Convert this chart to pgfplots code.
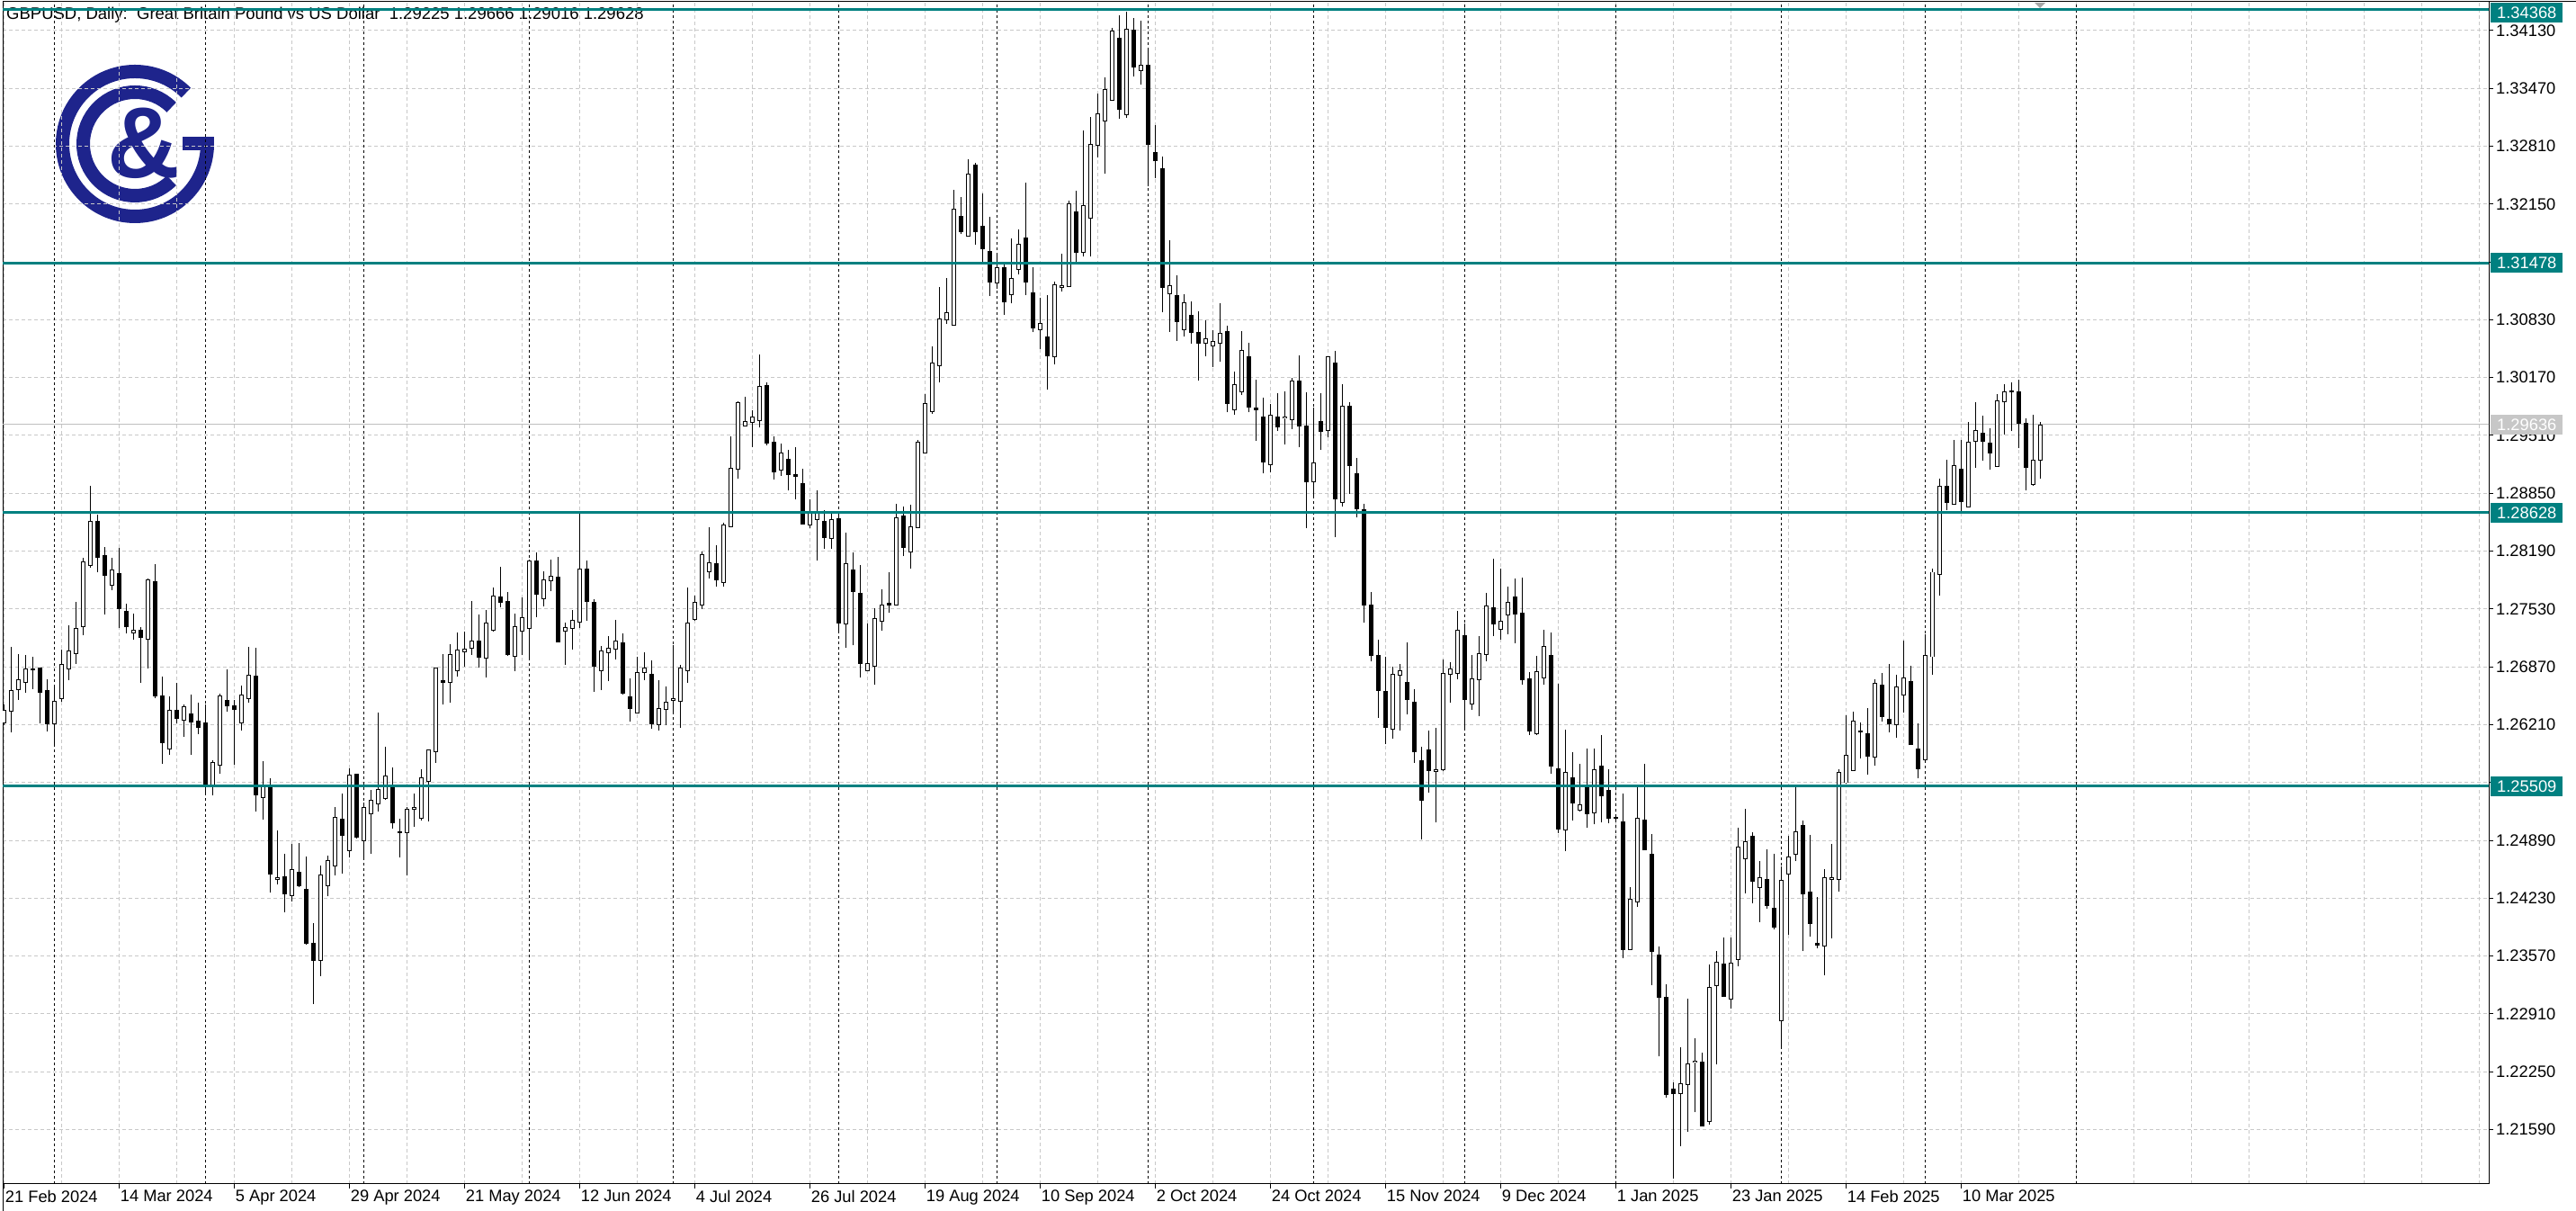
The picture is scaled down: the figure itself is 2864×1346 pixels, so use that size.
\documentclass[border=0pt]{standalone}
\usepackage{fontspec}
\setmainfont{Liberation Sans}
\usepackage{pgfplots}
\usepackage{pgfplotstable}
\pgfplotsset{compat=1.18}
\definecolor{lvl}{RGB}{0,128,128}
\definecolor{logo}{RGB}{30,36,140}
\definecolor{gridc}{RGB}{200,200,200}
\newcommand{\fs}{\fontsize{18.3}{20}\selectfont}

\pgfplotstableread{
i o h l c
0 1.26233 1.26438 1.26199 1.26377
1 1.26363 1.27098 1.26124 1.26602
2 1.26609 1.27016 1.26496 1.26719
3 1.26691 1.27003 1.26575 1.26849
7 1.26219 1.26643 1.25987 1.26472
8 1.26507 1.27067 1.26466 1.26893
9 1.26849 1.27345 1.26719 1.27047
10 1.27020 1.27611 1.26907 1.27303
11 1.27327 1.28114 1.27235 1.28070
12 1.28025 1.28935 1.28001 1.28531
15 1.27799 1.28114 1.27748 1.27970
18 1.27256 1.27475 1.27184 1.27290
20 1.27184 1.27875 1.26855 1.27858
23 1.25932 1.26534 1.25870 1.26370
25 1.26260 1.26438 1.26072 1.26411
29 1.25515 1.25806 1.25405 1.25782
30 1.25747 1.26568 1.25645 1.26534
33 1.26232 1.26660 1.26143 1.26550
34 1.26506 1.27097 1.26465 1.26776
36 1.25377 1.25798 1.25131 1.25521
38 1.24440 1.25001 1.24385 1.24467
40 1.24262 1.24844 1.24197 1.24553
44 1.23524 1.24601 1.23342 1.24498
45 1.24375 1.24714 1.24249 1.24656
46 1.24601 1.25271 1.24491 1.25148
48 1.24775 1.25712 1.24697 1.25637
50 1.24888 1.25326 1.24683 1.25268
51 1.25189 1.25463 1.24738 1.25350
52 1.25309 1.26348 1.25220 1.25473
53 1.25367 1.25959 1.25350 1.25627
56 1.24980 1.25275 1.24485 1.25247
57 1.25247 1.25425 1.25049 1.25261
58 1.25138 1.25702 1.25117 1.25599
59 1.25565 1.25924 1.25110 1.25918
60 1.25897 1.26865 1.25777 1.26858
62 1.26694 1.27128 1.26465 1.27012
63 1.26827 1.27265 1.26760 1.27063
64 1.27043 1.27276 1.26876 1.27074
65 1.27084 1.27625 1.27009 1.27166
67 1.26968 1.27515 1.26746 1.27372
68 1.27290 1.27775 1.27276 1.27679
71 1.26992 1.27474 1.26824 1.27324
72 1.27279 1.27659 1.27002 1.27426
73 1.27310 1.28097 1.26958 1.28073
75 1.27645 1.27960 1.27563 1.27864
76 1.27847 1.28097 1.27731 1.27898
78 1.27279 1.27372 1.26893 1.27314
79 1.27310 1.27522 1.27071 1.27402
80 1.27382 1.28617 1.27317 1.27980
83 1.26828 1.27105 1.26602 1.27054
84 1.27033 1.27225 1.26705 1.27084
85 1.27074 1.27406 1.26958 1.27166
88 1.26346 1.26985 1.26339 1.26801
89 1.26807 1.27040 1.26722 1.26852
91 1.26209 1.26718 1.26147 1.26397
92 1.26380 1.26650 1.26209 1.26465
93 1.26486 1.27115 1.26359 1.26510
94 1.26472 1.26889 1.26171 1.26855
95 1.26828 1.27772 1.26684 1.27372
96 1.27414 1.27681 1.27390 1.27602
97 1.27575 1.28180 1.27527 1.28146
98 1.27958 1.28464 1.27882 1.28060
100 1.27835 1.28512 1.27780 1.28484
101 1.28471 1.29497 1.28464 1.29138
102 1.29127 1.29897 1.29018 1.29880
103 1.29620 1.29948 1.29613 1.29664
104 1.29661 1.29798 1.29380 1.29722
105 1.29678 1.30437 1.29599 1.30071
108 1.29117 1.29418 1.29049 1.29312
112 1.28491 1.28782 1.28447 1.28642
113 1.28553 1.28888 1.28081 1.28635
115 1.28334 1.28642 1.28218 1.28553
117 1.27363 1.28402 1.27082 1.28050
120 1.26829 1.27363 1.26822 1.26911
121 1.26877 1.27534 1.26662 1.27424
122 1.27390 1.27749 1.27277 1.27578
124 1.27575 1.28731 1.27568 1.28566
126 1.28180 1.28717 1.27995 1.28471
127 1.28460 1.29462 1.28454 1.29435
128 1.29307 1.29977 1.29299 1.29871
129 1.29780 1.30522 1.29752 1.30332
130 1.30305 1.31200 1.30119 1.30837
131 1.30825 1.31303 1.30778 1.30908
132 1.30770 1.32313 1.30770 1.32092
134 1.31784 1.32664 1.31784 1.32494
138 1.31247 1.31567 1.31184 1.31425
140 1.31113 1.31756 1.31015 1.31299
141 1.31405 1.31855 1.31350 1.31689
144 1.30719 1.31082 1.30498 1.30786
146 1.30407 1.31263 1.30324 1.31228
147 1.31200 1.31579 1.31153 1.31216
148 1.31204 1.32190 1.31204 1.32151
150 1.31602 1.32987 1.31547 1.32131
151 1.31989 1.33145 1.31547 1.32833
152 1.32818 1.33409 1.32683 1.33181
153 1.33098 1.33599 1.32494 1.33461
154 1.33334 1.34159 1.33323 1.34123
156 1.33169 1.34340 1.33133 1.34143
158 1.33670 1.34242 1.33512 1.33737
162 1.31125 1.31741 1.30694 1.31221
164 1.30715 1.31125 1.30640 1.31026
167 1.30565 1.30824 1.30414 1.30616
168 1.30534 1.30708 1.30294 1.30578
169 1.30565 1.31019 1.30349 1.30677
171 1.29805 1.30233 1.29744 1.30086
172 1.30007 1.30701 1.29969 1.30476
176 1.29179 1.29870 1.29091 1.29744
178 1.29706 1.30014 1.29405 1.29720
179 1.29692 1.30168 1.29586 1.30134
182 1.28981 1.29826 1.28817 1.29200
184 1.29562 1.30414 1.29491 1.30404
186 1.28749 1.30093 1.28697 1.29846
193 1.26158 1.26876 1.26045 1.26787
194 1.26773 1.26907 1.26147 1.26828
199 1.25679 1.26175 1.25094 1.25699
200 1.25692 1.26951 1.25679 1.26797
201 1.26787 1.26924 1.26462 1.26848
202 1.26797 1.27505 1.26729 1.27283
204 1.26445 1.27002 1.26380 1.26735
205 1.26725 1.27225 1.26308 1.27023
206 1.27013 1.27714 1.26934 1.27560
208 1.27300 1.27994 1.27184 1.27385
209 1.27464 1.27789 1.27245 1.27601
213 1.26106 1.26995 1.26093 1.26811
214 1.26742 1.27296 1.26671 1.27098
217 1.25008 1.26157 1.24772 1.25662
219 1.25234 1.25764 1.25217 1.25299
221 1.25203 1.25935 1.25070 1.25692
226 1.23643 1.24358 1.23643 1.24221
227 1.24187 1.25514 1.24129 1.25144
233 1.22001 1.22531 1.21403 1.22118
234 1.22104 1.23085 1.21560 1.22343
235 1.22360 1.22631 1.21786 1.22374
237 1.21683 1.23472 1.21649 1.23215
238 1.23232 1.23626 1.22333 1.23503
240 1.23079 1.23780 1.22966 1.23486
241 1.23530 1.25035 1.23455 1.24816
242 1.24679 1.25250 1.24289 1.24878
244 1.24354 1.24659 1.23958 1.24464
247 1.22829 1.24590 1.22528 1.24433
248 1.24505 1.24946 1.23814 1.24700
249 1.24734 1.25514 1.24652 1.24990
253 1.23684 1.24566 1.23352 1.24467
254 1.24447 1.24847 1.23776 1.24460
255 1.24443 1.25700 1.24310 1.25667
256 1.25547 1.26317 1.25536 1.25863
257 1.25689 1.26353 1.25689 1.26246
260 1.25838 1.26725 1.25742 1.26679
263 1.26210 1.26778 1.26061 1.26640
264 1.26544 1.27168 1.26352 1.26743
267 1.25810 1.27239 1.25810 1.26995
268 1.26984 1.27992 1.26778 1.27949
269 1.27924 1.29013 1.27683 1.28932
271 1.28726 1.29457 1.28723 1.29170
273 1.28694 1.29659 1.28694 1.29432
274 1.29439 1.29893 1.29138 1.29570
277 1.29155 1.29982 1.29155 1.29900
278 1.29890 1.30096 1.29517 1.30007
282 1.28950 1.29741 1.28935 1.29223
283 1.29225 1.29666 1.29016 1.29628
}\bull

\pgfplotstableread{
i o h l c
4 1.26849 1.26979 1.26616 1.26835
5 1.26856 1.26866 1.26223 1.26582
6 1.26596 1.26729 1.26137 1.26219
13 1.28524 1.28610 1.27953 1.28121
14 1.28135 1.28234 1.27471 1.27916
16 1.27929 1.28223 1.27317 1.27536
17 1.27498 1.27587 1.27256 1.27327
19 1.27290 1.27327 1.26688 1.27204
21 1.27840 1.28039 1.26517 1.26541
22 1.26541 1.26756 1.25764 1.26004
24 1.26370 1.26684 1.26226 1.26281
26 1.26336 1.26551 1.25867 1.26243
27 1.26247 1.26462 1.26103 1.26178
28 1.26226 1.26438 1.25412 1.25532
31 1.26486 1.26842 1.26363 1.26421
32 1.26427 1.26489 1.25753 1.26383
35 1.26759 1.27087 1.25220 1.25411
37 1.25487 1.25600 1.24290 1.24505
39 1.24471 1.24738 1.24071 1.24283
41 1.24529 1.24861 1.24358 1.24368
42 1.24334 1.24707 1.23695 1.23712
43 1.23712 1.23948 1.23024 1.23520
47 1.25128 1.25425 1.24515 1.24946
49 1.25640 1.25647 1.24912 1.24926
54 1.25517 1.25723 1.25028 1.25090
55 1.24991 1.25138 1.24700 1.24977
61 1.26711 1.27019 1.26444 1.26690
66 1.27166 1.27467 1.26862 1.26982
69 1.27669 1.28011 1.27553 1.27608
70 1.27611 1.27720 1.26995 1.27006
74 1.28073 1.28175 1.27437 1.27700
77 1.27888 1.28124 1.27149 1.27156
81 1.27980 1.28086 1.27392 1.27618
82 1.27601 1.27642 1.26588 1.26879
86 1.27139 1.27249 1.26558 1.26565
87 1.26524 1.26739 1.26240 1.26394
90 1.26780 1.26944 1.26164 1.26219
99 1.28043 1.28259 1.27780 1.27862
106 1.30075 1.30116 1.29401 1.29418
107 1.29428 1.29497 1.29011 1.29093
109 1.29233 1.29346 1.28878 1.29066
110 1.29059 1.29377 1.28778 1.29045
111 1.28963 1.29127 1.28495 1.28502
114 1.28525 1.28662 1.28211 1.28344
116 1.28556 1.28635 1.27281 1.27369
118 1.27978 1.28173 1.27113 1.27732
119 1.27711 1.28036 1.26747 1.26908
123 1.27592 1.27944 1.27482 1.27578
125 1.28587 1.28696 1.28132 1.28231
133 1.32013 1.32226 1.31804 1.31831
135 1.32589 1.32620 1.31689 1.31839
136 1.31898 1.32269 1.31468 1.31638
137 1.31610 1.32001 1.31101 1.31263
139 1.31425 1.31468 1.30884 1.31034
142 1.31764 1.32391 1.31113 1.31263
143 1.31133 1.31433 1.30687 1.30739
145 1.30636 1.31113 1.30028 1.30419
149 1.32061 1.32297 1.31488 1.31602
155 1.34041 1.34301 1.33125 1.33232
157 1.34131 1.34277 1.33603 1.33717
159 1.33729 1.33914 1.32352 1.32829
160 1.32740 1.33050 1.32449 1.32640
161 1.32548 1.32692 1.30913 1.31201
163 1.31108 1.31341 1.30592 1.30811
165 1.30876 1.31040 1.30554 1.30688
166 1.30681 1.30927 1.30140 1.30561
170 1.30691 1.30766 1.29771 1.29877
173 1.30404 1.30571 1.29771 1.29833
174 1.29819 1.30147 1.29443 1.29798
175 1.29723 1.29942 1.29073 1.29210
177 1.29723 1.29987 1.29559 1.29610
180 1.30127 1.30424 1.29374 1.29614
181 1.29614 1.29997 1.28451 1.28981
183 1.29672 1.29990 1.29340 1.29559
185 1.30332 1.30476 1.28348 1.28790
187 1.29840 1.29884 1.28841 1.29169
188 1.29070 1.29255 1.28574 1.28673
189 1.28666 1.28728 1.27370 1.27570
190 1.27570 1.27720 1.26930 1.27000
191 1.27000 1.27180 1.26290 1.26600
192 1.26585 1.26985 1.25987 1.26175
195 1.26695 1.27149 1.26325 1.26496
196 1.26462 1.26619 1.25778 1.25901
197 1.25795 1.25959 1.24899 1.25350
198 1.25925 1.26147 1.25436 1.25686
203 1.27221 1.27361 1.26171 1.26496
207 1.27539 1.28107 1.27225 1.27358
210 1.27662 1.27881 1.27139 1.27471
211 1.27478 1.27892 1.26671 1.26722
212 1.26729 1.26807 1.26093 1.26141
215 1.26995 1.27266 1.25645 1.25737
216 1.25703 1.26677 1.24974 1.25019
218 1.25607 1.25901 1.25121 1.25316
220 1.25497 1.25935 1.25029 1.25197
222 1.25733 1.26086 1.25094 1.25402
223 1.25457 1.25703 1.25087 1.25145
224 1.25150 1.25172 1.25120 1.25146
225 1.25103 1.25421 1.23547 1.23643
228 1.25124 1.25760 1.24782 1.24782
229 1.24734 1.24960 1.23239 1.23626
230 1.23585 1.23680 1.22429 1.23103
231 1.23103 1.23246 1.21950 1.21991
232 1.22049 1.22128 1.21033 1.22001
236 1.22364 1.22470 1.21632 1.21632
239 1.23475 1.23780 1.23109 1.23109
243 1.24939 1.24987 1.24173 1.24423
245 1.24440 1.24785 1.24105 1.24146
246 1.24118 1.24734 1.23879 1.23896
250 1.25062 1.25117 1.23626 1.24276
251 1.24303 1.24949 1.23787 1.23940
252 1.23711 1.24248 1.23660 1.23698
258 1.26139 1.26235 1.25827 1.26125
259 1.26111 1.26395 1.25643 1.25849
261 1.26665 1.26796 1.26246 1.26303
262 1.26274 1.26902 1.26122 1.26221
265 1.26697 1.26885 1.25980 1.25980
266 1.25927 1.26228 1.25600 1.25707
270 1.28925 1.29237 1.28659 1.28744
272 1.29127 1.29457 1.28634 1.28754
275 1.29535 1.29734 1.29219 1.29439
276 1.29421 1.29588 1.29120 1.29311
279 1.30014 1.30113 1.29556 1.30003
280 1.30007 1.30142 1.29361 1.29652
281 1.29649 1.29709 1.28879 1.29145
}\bear

\begin{document}
\begin{tikzpicture}
\useasboundingbox (0pt,0pt) rectangle (2864pt,1346pt);
% logo
\draw[logo, line width=15pt] (150pt,1186pt) ++(45:80.5pt) arc[start angle=45, end angle=360, radius=80.5pt];
\draw[logo, line width=15pt] (150pt,1186pt) ++(45:57.5pt) arc[start angle=45, end angle=315, radius=57.5pt];
\fill[logo] (203pt,1179pt) rectangle (238pt,1194pt);
\node[logo, inner sep=0pt, font=\fontsize{112}{112}\selectfont\bfseries] at (160pt,1187pt) {\&};
% title
\node[anchor=west, inner sep=0pt, font=\fontsize{18.5}{20}\selectfont] at (7pt,1329pt) {GBPUSD, Daily:\ \ Great Britain Pound vs US Dollar\ \ 1.29225 1.29666 1.29016 1.29628};

\begin{axis}[
  at={(3pt,30pt)}, anchor=south west,
  width=2764pt, height=1314pt, scale only axis,
  xmin=-0.2125, xmax=345.29,
  ymin=1.20969, ymax=1.34457,
  axis line style={black, line width=1pt},
  tick style={black, line width=1pt},
  tick align=outside,
  major tick length=5pt, minor tick length=0pt,
  xtick pos=left, ytick pos=right, yticklabel pos=right,
  xtick={0,16,...,272},
  xticklabels={21 Feb 2024,14 Mar 2024,5 Apr 2024,29 Apr 2024,21 May 2024,12 Jun 2024,4 Jul 2024,26 Jul 2024,19 Aug 2024,10 Sep 2024,2 Oct 2024,24 Oct 2024,15 Nov 2024,9 Dec 2024,1 Jan 2025,23 Jan 2025,14 Feb 2025,10 Mar 2025},
  minor xtick={8,16,...,344},
  ytick={1.2159,1.2225,1.2291,1.2357,1.2423,1.2489,1.2555,1.2621,1.2687,1.2753,1.2819,1.2885,1.2951,1.3017,1.3083,1.3149,1.3215,1.3281,1.3347,1.3413},
  yticklabels={1.21590,1.22250,1.22910,1.23570,1.24230,1.24890,1.25550,1.26210,1.26870,1.27530,1.28190,1.28850,1.29510,1.30170,1.30830,1.31490,1.32150,1.32810,1.33470,1.34130},
  xmajorgrids=true, xminorgrids=true, ymajorgrids=true,
  major grid style={gridc, line width=1pt, dash pattern=on 4pt off 3pt},
  minor grid style={gridc, line width=1pt, dash pattern=on 4pt off 3pt},
  tick label style={font=\fs, text=black},
  xticklabel style={anchor=north west, inner xsep=1pt, inner ysep=2pt},
  yticklabel style={anchor=west, inner xsep=3pt},
  extra x ticks={7,28,50,73,93,116,138,159,182,203,224,247,267,288},
  extra x tick labels={},
  extra x tick style={grid=major, major grid style={black, line width=1pt, dash pattern=on 3pt off 3pt}, major tick length=0pt},
]
% current price line
\addplot[color=black!25, line width=1pt, forget plot] coordinates {(-1,1.29636) (350,1.29636)};
% wicks
\addplot[draw=none, mark=none, forget plot, error bars/.cd, y dir=plus, y explicit, error mark=none, error bar style={draw=black, line width=1.2pt}]
  table[x=i, y=l, y error expr=\thisrow{h}-\thisrow{l}] {\bull};
\addplot[draw=none, mark=none, forget plot, error bars/.cd, y dir=plus, y explicit, error mark=none, error bar style={draw=black, line width=1.2pt}]
  table[x=i, y=l, y error expr=\thisrow{h}-\thisrow{l}] {\bear};
% bearish bodies
\addplot[draw=none, mark=none, forget plot, error bars/.cd, y dir=plus, y explicit, error mark=none, error bar style={draw=black, line width=5pt}]
  table[x=i, y expr=\thisrow{c}-0.00005, y error expr=\thisrow{o}-\thisrow{c}+0.0001] {\bear};
% bullish bodies: outline then white inside
\addplot[draw=none, mark=none, forget plot, error bars/.cd, y dir=plus, y explicit, error mark=none, error bar style={draw=black, line width=5pt}]
  table[x=i, y expr=\thisrow{o}-0.00005, y error expr=\thisrow{c}-\thisrow{o}+0.0001] {\bull};
\addplot[draw=none, mark=none, forget plot, error bars/.cd, y dir=plus, y explicit, error mark=none, error bar style={draw=white, line width=3pt}]
  table[x=i, y expr=\thisrow{o}+0.00005, y error expr=\thisrow{c}-\thisrow{o}-0.0001] {\bull};
% levels
\addplot[lvl, line width=2.8pt, forget plot] coordinates {(-1,1.34368) (350,1.34368)};
\addplot[lvl, line width=2.8pt, forget plot] coordinates {(-1,1.31478) (350,1.31478)};
\addplot[lvl, line width=2.8pt, forget plot] coordinates {(-1,1.28628) (350,1.28628)};
\addplot[lvl, line width=2.8pt, forget plot] coordinates {(-1,1.25509) (350,1.25509)};
\coordinate (b1) at (axis cs:345.29,1.34368);
\coordinate (b2) at (axis cs:345.29,1.31478);
\coordinate (b3) at (axis cs:345.29,1.28628);
\coordinate (b4) at (axis cs:345.29,1.25509);
\coordinate (bg) at (axis cs:345.29,1.29636);
\end{axis}
\tikzset{lbox/.style={anchor=west, text=white, font=\fs, inner xsep=7pt, inner ysep=0pt, text height=13pt, text depth=0pt, minimum height=22pt}}
\node[lbox, fill=lvl] at ([xshift=2pt,yshift=-3pt]b1) {1.34368};
\node[lbox, fill=lvl] at ([xshift=2pt]b2) {1.31478};
\node[lbox, fill=lvl] at ([xshift=2pt]b3) {1.28628};
\node[lbox, fill=lvl] at ([xshift=2pt]b4) {1.25509};
\node[lbox, fill=black!22] at ([xshift=2pt]bg) {1.29636};
% frame extensions and shift marker
\draw[black, line width=1pt] (2767pt,1344pt) -- (2864pt,1344pt);
\draw[black, line width=1pt] (3pt,30pt) -- (3pt,0pt);
\fill[black!35] (2262pt,1343pt) -- (2274pt,1343pt) -- (2268pt,1337pt) -- cycle;
\end{tikzpicture}
\end{document}
